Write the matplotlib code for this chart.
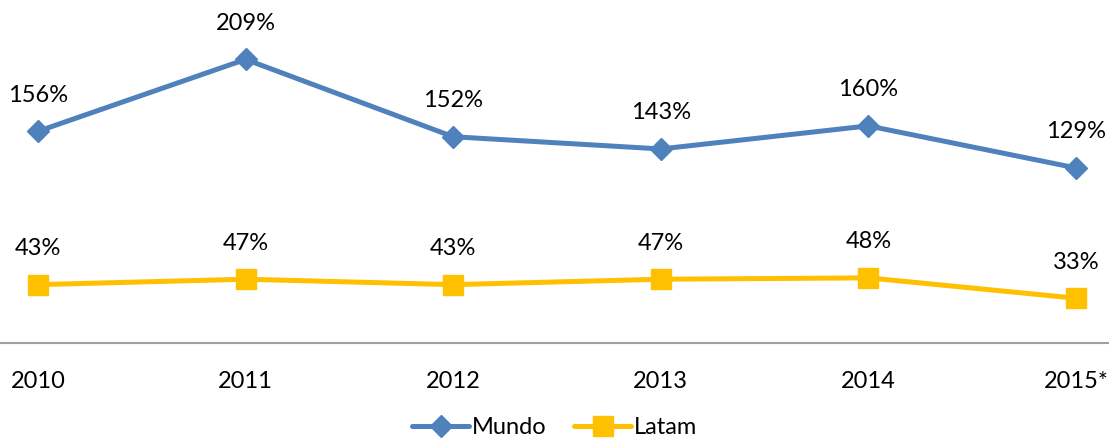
import matplotlib
matplotlib.use("Agg")
import matplotlib.pyplot as plt

years = ["2010", "2011", "2012", "2013", "2014", "2015*"]
mundo = [156, 209, 152, 143, 160, 129]
latam = [43, 47, 43, 47, 48, 33]

plt.rcParams['font.family'] = ['Lato', 'DejaVu Sans']

fig = plt.figure(figsize=(11.09, 4.43), dpi=100)
ax = fig.add_axes([0, 100/443, 1, 343/443])

x = list(range(len(years)))
ax.plot(x, mundo, color="#4F81BD", lw=3.6, marker="D", ms=11, label="Mundo", solid_capstyle="round")
ax.plot(x, latam, color="#FFC000", lw=3.6, marker="s", ms=14, label="Latam", solid_capstyle="round")

for xi, v in zip(x, mundo):
    ax.annotate(f"{v}%", (xi, v), xytext=(0, 36), textcoords="offset pixels",
                ha="center", va="center", fontsize=17, color="#000000")
for xi, v in zip(x, latam):
    ax.annotate(f"{v}%", (xi, v), xytext=(0, 36), textcoords="offset pixels",
                ha="center", va="center", fontsize=17, color="#000000")

ax.set_xlim(-38/207.6, 5 + 33/207.6)
ax.set_ylim(0, 343/1.357)
ax.set_xticks(x)
ax.set_xticklabels(years, fontsize=17)
ax.tick_params(axis="x", length=0, pad=20)
ax.set_yticks([])
for s in ["top", "left", "right"]:
    ax.spines[s].set_visible(False)
ax.spines["bottom"].set_color("#A0A0A0")
ax.spines["bottom"].set_linewidth(1.5)

fig.legend(loc="lower center", bbox_to_anchor=(0.5, -0.01), ncol=2, frameon=False,
           fontsize=17, handlelength=2.4, handletextpad=0.1, columnspacing=1.2,
           borderaxespad=0)

fig.savefig("out.png", dpi=100)
